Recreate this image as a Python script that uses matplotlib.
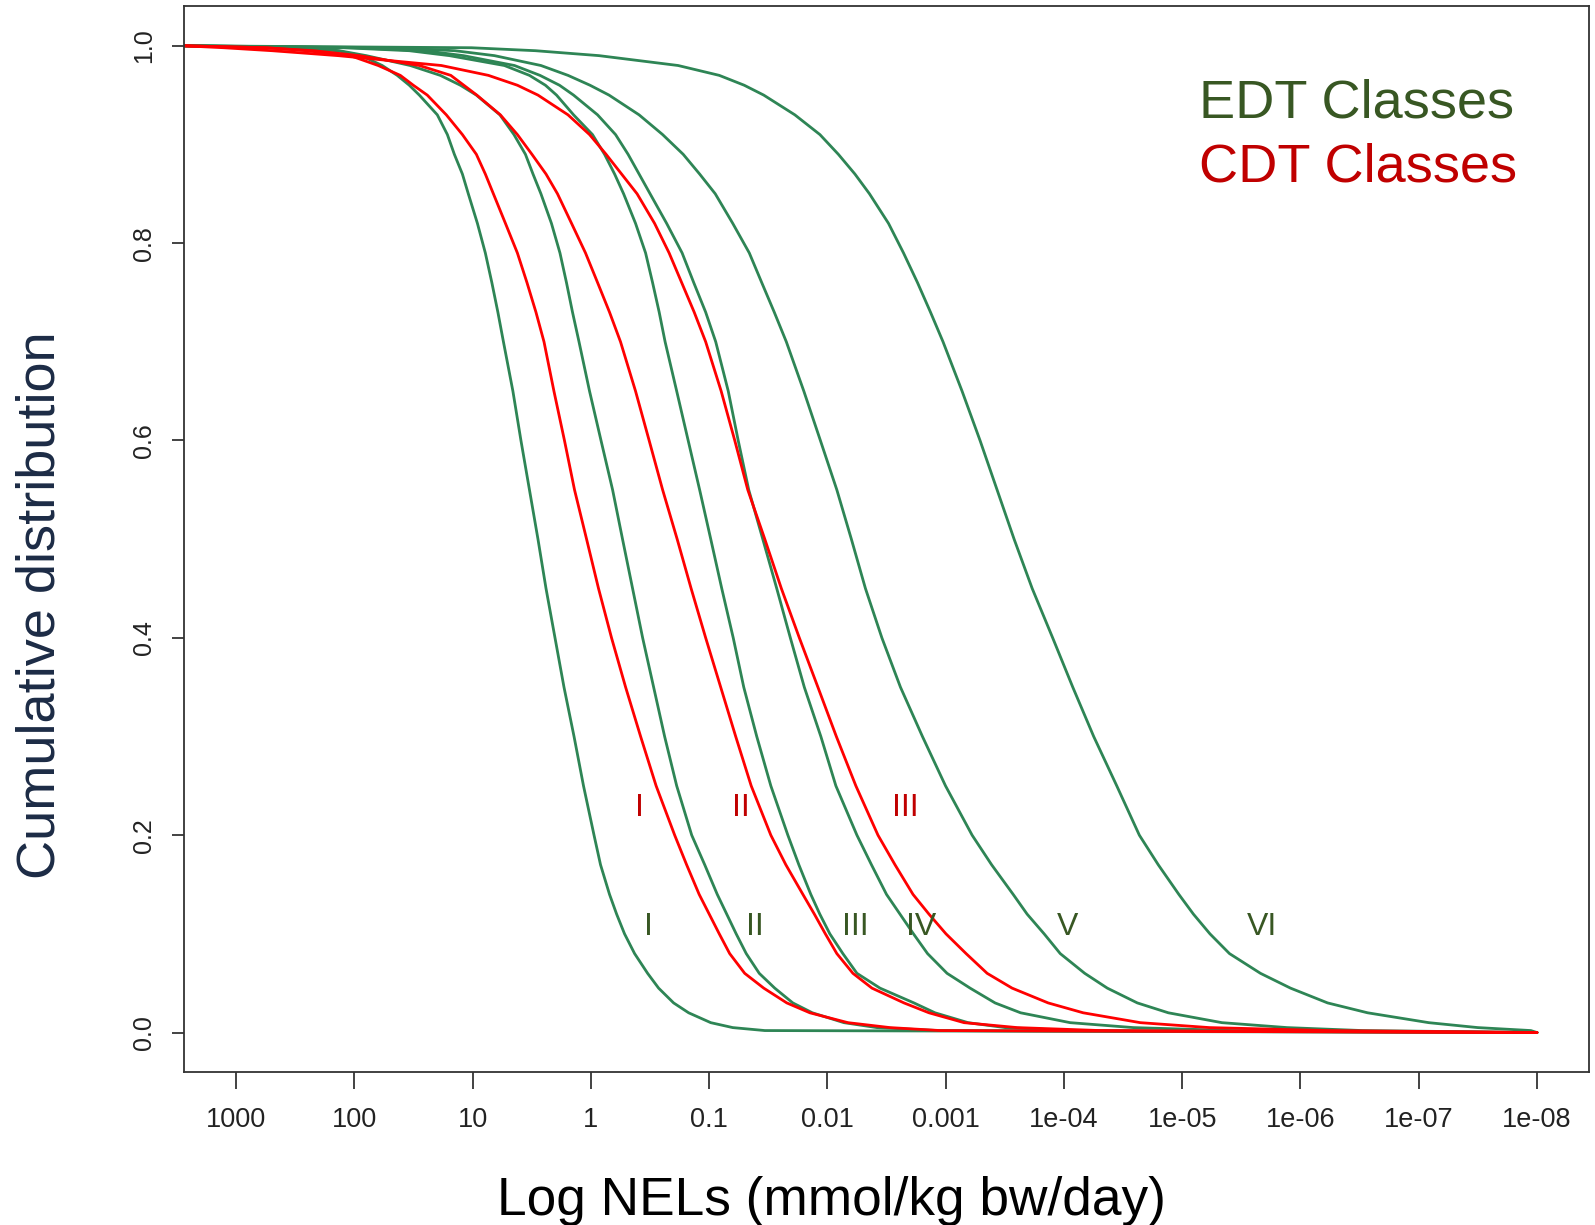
import matplotlib
matplotlib.use("Agg")
import numpy as np
import matplotlib.pyplot as plt
from matplotlib import font_manager
from matplotlib.ticker import FixedLocator, FixedFormatter, NullLocator

plt.rcParams['font.family'] = ['Liberation Sans', 'DejaVu Sans']

# ---- data ----
# cumulative fractions at which each class's NEL (log10, mmol/kg bw/day) is given
cum_levels = [1.0, 0.998, 0.995, 0.99, 0.98, 0.97, 0.96, 0.95, 0.93, 0.91, 0.89, 0.87, 0.85,
              0.82, 0.79, 0.76, 0.73, 0.70, 0.65, 0.60, 0.55, 0.50, 0.45, 0.40, 0.35, 0.30,
              0.25, 0.20, 0.17, 0.14, 0.12, 0.10, 0.08, 0.06, 0.045, 0.03, 0.02, 0.01, 0.005,
              0.002, 0.0]

edt_I_log = [3.449, 2.467, 2.145, 1.942, 1.764, 1.637, 1.535, 1.450, 1.298, 1.213, 1.154, 1.086,
             1.036, 0.959, 0.892, 0.837, 0.786, 0.739, 0.659, 0.591, 0.519, 0.447, 0.379, 0.303,
             0.227, 0.142, 0.062, -0.027, -0.082, -0.158, -0.218, -0.285, -0.370, -0.480, -0.573,
             -0.700, -0.827, -1.014, -1.200, -1.471, -8.0]

edt_II_log = [3.449, 2.416, 2.128, 1.899, 1.527, 1.273, 1.103, 0.968, 0.769, 0.650, 0.553, 0.489,
              0.422, 0.333, 0.261, 0.206, 0.155, 0.100, 0.011, -0.086, -0.184, -0.268, -0.353,
              -0.438, -0.531, -0.624, -0.726, -0.853, -0.963, -1.069, -1.149, -1.229, -1.314,
              -1.424, -1.555, -1.708, -1.873, -2.140, -2.419, -2.936, -8.0]

edt_III_log = [3.449, 2.086, 1.535, 1.196, 0.731, 0.519, 0.384, 0.290, 0.146, -0.014, -0.116,
               -0.201, -0.277, -0.378, -0.463, -0.522, -0.578, -0.628, -0.726, -0.823, -0.920,
               -1.014, -1.107, -1.204, -1.293, -1.403, -1.522, -1.666, -1.759, -1.860, -1.936,
               -2.021, -2.131, -2.250, -2.445, -2.732, -2.910, -3.190, -3.503, -4.053, -8.0]

edt_IV_log = [3.449, 2.009, 1.404, 1.078, 0.646, 0.430, 0.265, 0.146, -0.057, -0.209, -0.315,
              -0.408, -0.501, -0.641, -0.772, -0.870, -0.971, -1.056, -1.162, -1.246, -1.335,
              -1.454, -1.572, -1.687, -1.805, -1.945, -2.072, -2.250, -2.373, -2.500, -2.614,
              -2.728, -2.847, -3.012, -3.207, -3.418, -3.634, -4.053, -4.587, -5.425, -8.0]

edt_V_log = [3.449, 1.662, 1.150, 0.815, 0.422, 0.193, 0.007, -0.154, -0.408, -0.607, -0.781,
             -0.920, -1.052, -1.200, -1.340, -1.445, -1.551, -1.653, -1.801, -1.941, -2.080,
             -2.203, -2.322, -2.461, -2.618, -2.804, -2.999, -3.224, -3.389, -3.571, -3.689,
             -3.833, -3.969, -4.176, -4.367, -4.621, -4.883, -5.336, -5.887, -6.522, -8.0]

edt_VI_log = [3.449, 1.010, 0.468, -0.069, -0.738, -1.086, -1.297, -1.462, -1.725, -1.937, -2.093,
              -2.233, -2.356, -2.517, -2.644, -2.762, -2.872, -2.978, -3.139, -3.291, -3.435,
              -3.579, -3.732, -3.905, -4.075, -4.252, -4.447, -4.638, -4.798, -4.972, -5.095,
              -5.235, -5.400, -5.662, -5.916, -6.230, -6.568, -7.085, -7.500, -7.948, -8.0]

cdt_I_log = [3.449, 2.737, 2.407, 2.035, 1.798, 1.611, 1.501, 1.383, 1.222, 1.086, 0.968, 0.892,
             0.824, 0.722, 0.621, 0.540, 0.464, 0.396, 0.312, 0.223, 0.138, 0.036, -0.065, -0.175,
             -0.294, -0.421, -0.552, -0.709, -0.810, -0.916, -1.001, -1.086, -1.174, -1.301,
             -1.462, -1.657, -1.852, -2.174, -2.529, -2.953, -8.0]

cdt_II_log = [3.449, 2.771, 2.340, 1.959, 1.450, 1.184, 1.074, 0.964, 0.765, 0.621, 0.498, 0.379,
              0.282, 0.163, 0.045, -0.057, -0.158, -0.251, -0.378, -0.493, -0.607, -0.730, -0.848,
              -0.971, -1.098, -1.225, -1.356, -1.522, -1.649, -1.793, -1.890, -1.983, -2.080,
              -2.216, -2.377, -2.648, -2.859, -3.156, -3.605, -4.307, -8.0]

cdt_III_log = [3.449, 3.102, 2.695, 2.136, 1.264, 0.866, 0.621, 0.447, 0.193, 0.011, -0.129,
               -0.260, -0.391, -0.539, -0.662, -0.768, -0.874, -0.971, -1.102, -1.217, -1.327,
               -1.471, -1.611, -1.763, -1.920, -2.076, -2.241, -2.428, -2.572, -2.724, -2.859,
               -3.003, -3.173, -3.351, -3.562, -3.867, -4.163, -4.646, -5.230, -6.238, -8.0]

# class labels placed next to the curves
edt_labels = ["I", "II", "III", "IV", "V", "VI"]
edt_label_log = [-0.484, -1.390, -2.239, -2.789, -4.028, -5.673]
edt_label_cum = 0.0988
cdt_labels = ["I", "II", "III"]
cdt_label_log = [-0.408, -1.272, -2.661]
cdt_label_cum = 0.2194

tick_exponents = [3, 2, 1, 0, -1, -2, -3, -4, -5, -6, -7, -8]
tick_labels = ["1000", "100", "10", "1", "0.1", "0.01", "0.001",
               "1e-04", "1e-05", "1e-06", "1e-07", "1e-08"]
y_ticks = [0.0, 0.2, 0.4, 0.6, 0.8, 1.0]
y_tick_labels = ["0.0", "0.2", "0.4", "0.6", "0.8", "1.0"]

GREEN = "#2e8555"
RED = "#ff0000"
GREEN_TEXT = "#385723"
RED_TEXT = "#c00000"

# narrow face for the x tick labels when it is installed
installed = {f.name for f in font_manager.fontManager.ttflist}
if 'Liberation Sans Narrow' in installed:
    xtick_font, xtick_size = 'Liberation Sans Narrow', 22
else:
    xtick_font, xtick_size = 'Liberation Sans', 19.5

W, H = 1595, 1225
fig = plt.figure(figsize=(W / 100, H / 100), dpi=100)
ax = fig.add_axes([184 / W, 1 - 1072 / H, (1589 - 184) / W, (1072 - 6.3) / H])

edt = [edt_I_log, edt_II_log, edt_III_log, edt_IV_log, edt_V_log, edt_VI_log]
cdt = [cdt_I_log, cdt_II_log, cdt_III_log]

for lg in edt:
    ax.plot(10.0 ** np.asarray(lg), cum_levels, color=GREEN, lw=2.0,
            solid_joinstyle='round', solid_capstyle='round')
for lg in cdt:
    ax.plot(10.0 ** np.asarray(lg), cum_levels, color=RED, lw=2.0,
            solid_joinstyle='round', solid_capstyle='round')

ax.set_xscale('log')
ax.set_xlim(10 ** 3.44, 10 ** -8.44)
ax.set_ylim(-0.04, 1.04)

ax.xaxis.set_major_locator(FixedLocator([10.0 ** e for e in tick_exponents]))
ax.xaxis.set_major_formatter(FixedFormatter(tick_labels))
ax.xaxis.set_minor_locator(NullLocator())
ax.yaxis.set_major_locator(FixedLocator(y_ticks))
ax.yaxis.set_major_formatter(FixedFormatter(y_tick_labels))

ax.tick_params(axis='x', length=12, width=1.2, pad=13, labelsize=xtick_size, colors='#222222')
for lab in ax.get_xticklabels():
    lab.set_fontfamily([xtick_font, 'Liberation Sans', 'DejaVu Sans'])
ax.tick_params(axis='y', length=9, width=1.2, pad=11, labelsize=18, colors='#222222',
               labelrotation=90)
for lab in ax.get_yticklabels():
    lab.set_va('center')
for sp in ax.spines.values():
    sp.set_linewidth(1.3)
    sp.set_color('#333333')

for txt, lg in zip(edt_labels, edt_label_log):
    ax.text(10 ** lg, edt_label_cum, txt, color=GREEN_TEXT, fontsize=23,
            ha='center', va='baseline')
for txt, lg in zip(cdt_labels, cdt_label_log):
    ax.text(10 ** lg, cdt_label_cum, txt, color=RED_TEXT, fontsize=23,
            ha='center', va='baseline')

fig.text(1199 / W, 1 - 117 / H, "EDT Classes", color=GREEN_TEXT, fontsize=39,
         ha='left', va='baseline')
fig.text(1199 / W, 1 - 181 / H, "CDT Classes", color=RED_TEXT, fontsize=39,
         ha='left', va='baseline')

fig.text(831.5 / W, 1 - 1215 / H, "Log NELs (mmol/kg bw/day)", color='black',
         fontsize=38.3, ha='center', va='baseline')
fig.text(65.5 / W, 1 - 605 / H, "Cumulative distribution", color='#1c2b45',
         fontsize=39, rotation=90, ha='right', va='center')

fig.savefig("out.png", dpi=100)
